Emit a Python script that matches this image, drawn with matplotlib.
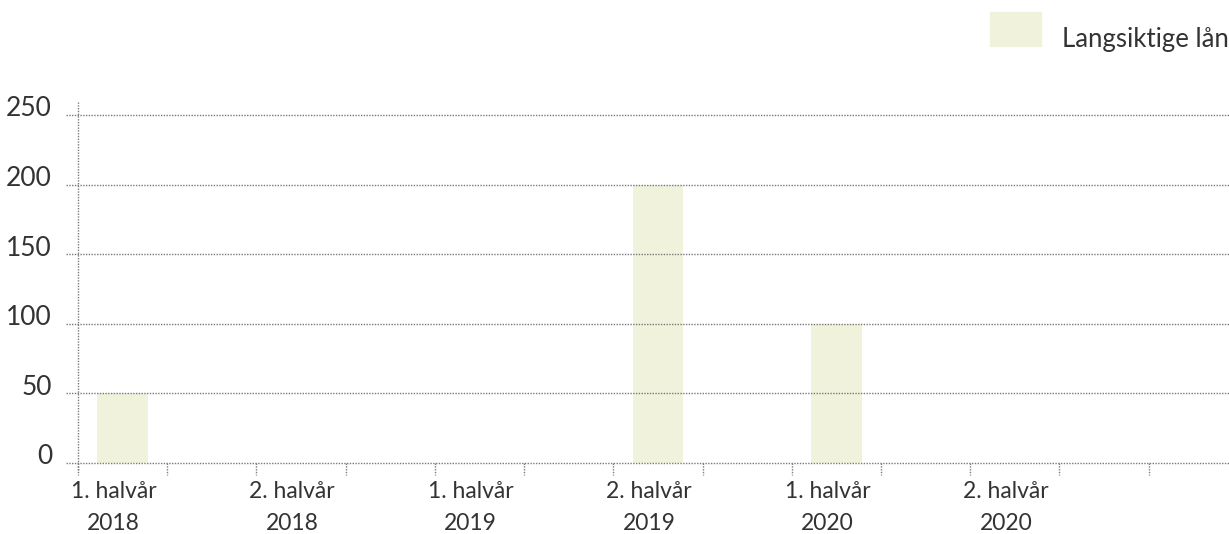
import matplotlib.pyplot as plt
import matplotlib.transforms as mtransforms

# data
halvaar = ['1. halvår', '2. halvår', '1. halvår', '2. halvår', '1. halvår', '2. halvår']
aar = ['2018', '2018', '2019', '2019', '2020', '2020']
langsiktige_laan = [50, 0, 0, 200, 100, 0]
y_ticks = [0, 50, 100, 150, 200, 250]

bar_color = '#F0F2DC'
text_color = '#333333'
grid_color = '#7a7a7a'

plt.rcParams['font.family'] = ['Lato', 'DejaVu Sans']

fig = plt.figure(figsize=(12.29, 5.34), dpi=100)
ax = fig.add_axes([78 / 1229, 71 / 534, 1 - 78 / 1229, 362 / 534])

# kategoriene ligger på annenhver posisjon
xpos = [2 * i for i in range(len(halvaar))]
ax.bar(xpos, langsiktige_laan, width=0.57, color=bar_color, zorder=1,
       label='Langsiktige lån')

ax.set_xlim(-0.5, 12.4)
ax.set_ylim(0, 260)

for s in ax.spines.values():
    s.set_visible(False)
ax.set_xticks([])
ax.set_yticks([])

# stiplede hjelpelinjer, litt ut til venstre for aksen
trans = mtransforms.blended_transform_factory(ax.transAxes, ax.transData)
for v in y_ticks:
    ax.plot([-0.01, 1], [v, v], transform=trans, color=grid_color,
            linestyle=(0, (1, 1)), linewidth=1, clip_on=False, zorder=2)
    ax.text(-0.0225, v - 1, str(v), transform=trans, ha='right', va='baseline',
            fontsize=19, color=text_color)

# vertikal akselinje
trans_x = mtransforms.blended_transform_factory(ax.transData, ax.transAxes)
ax.plot([-0.5, -0.5], [-0.02, 1], transform=trans_x, color=grid_color,
        linestyle=(0, (1, 1)), linewidth=1, clip_on=False, zorder=2)

# små tikkmerker mellom kategoriene
for b in range(13):
    x = b - 0.5
    ax.plot([x, x], [0, -0.033], transform=trans_x, color=grid_color,
            linestyle=(0, (1, 1)), linewidth=1, clip_on=False)

for x, h, a in zip(xpos, halvaar, aar):
    ax.text(x - 0.1, -29 / 362, h, transform=trans_x, ha='center', va='center',
            fontsize=16.5, color=text_color)
    ax.text(x - 0.1, -60 / 362, a, transform=trans_x, ha='center', va='center',
            fontsize=16.5, color=text_color)

# legend
fig.patches.append(plt.Rectangle((990 / 1229, 1 - 46 / 534), 51 / 1229, 34 / 534,
                                 transform=fig.transFigure, color=bar_color))
fig.text(1062 / 1229, 1 - 40 / 534, 'Langsiktige lån', ha='left', va='center',
         fontsize=18.5, color=text_color)

fig.savefig('out.png', dpi=100)
